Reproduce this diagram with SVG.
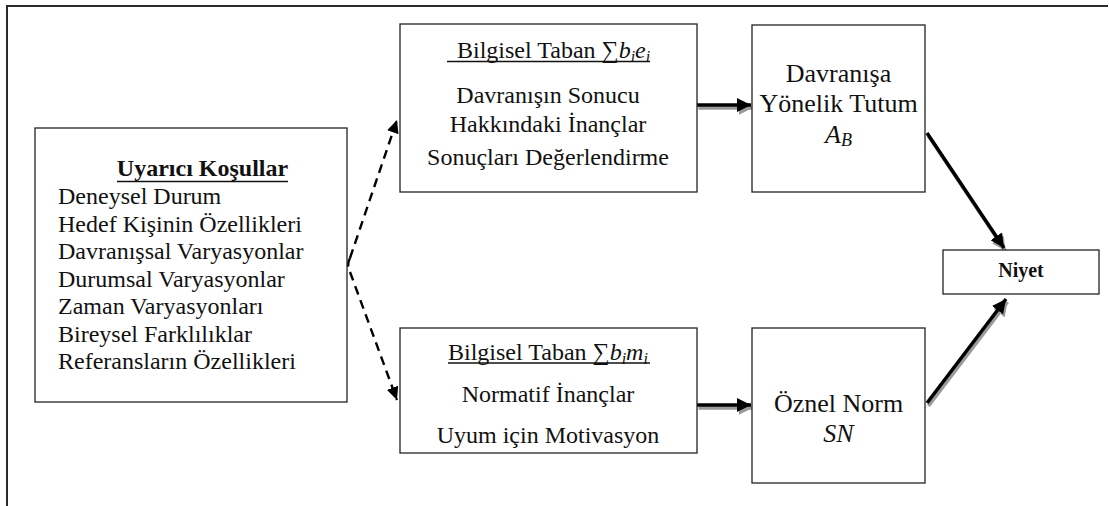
<svg xmlns="http://www.w3.org/2000/svg" width="1109" height="506" viewBox="0 0 1109 506" font-family="'Liberation Serif', 'Times New Roman', Times, 'DejaVu Serif', serif">
  <style>
    text { fill: #111; }
    .t24 { font-size: 24px; }
    .t26 { font-size: 26px; }
    .c { text-anchor: middle; }
    .box { fill: #fff; stroke: #222; stroke-width: 1.3; }
    .frame { fill: none; stroke: #2a2a2a; stroke-width: 2; }
    .uline { stroke: #111; stroke-width: 1.6; }
    .dash { fill: none; stroke: #000; stroke-width: 2.4; stroke-dasharray: 9 6; }
    .thick { fill: none; stroke: #000; stroke-width: 3.5; }
    .shadow { fill: none; stroke: #9a9a9a; stroke-width: 3.5; }
  </style>
  <defs>
    <marker id="headBlack" markerUnits="userSpaceOnUse" markerWidth="16" markerHeight="14" refX="14" refY="7" orient="auto">
      <path d="M0,0 L14,7 L0,14 Z" fill="#000"/>
    </marker>
    <marker id="headGray" markerUnits="userSpaceOnUse" markerWidth="16" markerHeight="14" refX="14" refY="7" orient="auto">
      <path d="M0,0 L14,7 L0,14 Z" fill="#9a9a9a"/>
    </marker>
    <marker id="headDash" markerUnits="userSpaceOnUse" markerWidth="14" markerHeight="12" refX="13" refY="6" orient="auto">
      <path d="M0,0 L13,6 L0,12 Z" fill="#000"/>
    </marker>
  </defs>

  <!-- page frame -->
  <path class="frame" d="M7,506 V6 H1108"/>

  <!-- connectors -->
  <g id="connectors">
    <path class="dash" d="M350,258 Q346,265 350,272" stroke-dasharray="none"/>
    <path class="dash" d="M350,258 L397,120" marker-end="url(#headDash)"/>
    <path class="dash" d="M350,272 L397,400" marker-end="url(#headDash)"/>

    <g transform="translate(1.5,3)">
      <path class="shadow" d="M697,105 H751" marker-end="url(#headGray)"/>
      <path class="shadow" d="M697,405 H751" marker-end="url(#headGray)"/>
      <path class="shadow" d="M927,133 L1004,248" marker-end="url(#headGray)"/>
      <path class="shadow" d="M927,403 L1006,299" marker-end="url(#headGray)"/>
    </g>
    <path class="thick" d="M697,105 H751" marker-end="url(#headBlack)"/>
    <path class="thick" d="M697,405 H751" marker-end="url(#headBlack)"/>
    <path class="thick" d="M927,133 L1004,248" marker-end="url(#headBlack)"/>
    <path class="thick" d="M927,403 L1006,299" marker-end="url(#headBlack)"/>
  </g>

  <!-- stimulus conditions -->
  <g id="node-uyarici">
    <rect class="box" x="35" y="128" width="312" height="274"/>
    <text class="t24 c" x="202.5" y="176" font-weight="bold">Uyarıcı Koşullar</text>
    <line class="uline" x1="117" y1="181.5" x2="288" y2="181.5" stroke-width="2"/>
    <text class="t24" x="58" y="204">Deneysel Durum</text>
    <text class="t24" x="58" y="231.5">Hedef Kişinin Özellikleri</text>
    <text class="t24" x="58" y="259">Davranışsal Varyasyonlar</text>
    <text class="t24" x="58" y="286.5">Durumsal Varyasyonlar</text>
    <text class="t24" x="58" y="314">Zaman Varyasyonları</text>
    <text class="t24" x="58" y="341.5">Bireysel Farklılıklar</text>
    <text class="t24" x="58" y="369">Referansların Özellikleri</text>
  </g>

  <!-- behavioural beliefs -->
  <g id="node-bilgisel-1">
    <rect class="box" x="400" y="24" width="297" height="168"/>
    <text class="t24" x="457" y="58">Bilgisel Taban ∑<tspan font-style="italic">b</tspan><tspan font-style="italic" font-size="16" dy="4">i</tspan><tspan font-style="italic" dy="-4">e</tspan><tspan font-style="italic" font-size="16" dy="4">i</tspan></text>
    <line class="uline" x1="447" y1="61.5" x2="650" y2="61.5"/>
    <text class="t24 c" x="548" y="103">Davranışın Sonucu</text>
    <text class="t24 c" x="548" y="132">Hakkındaki İnançlar</text>
    <text class="t24 c" x="548" y="165">Sonuçları Değerlendirme</text>
  </g>

  <!-- normative beliefs -->
  <g id="node-bilgisel-2">
    <rect class="box" x="400" y="328" width="297" height="125"/>
    <text class="t24" x="448" y="360">Bilgisel Taban ∑<tspan font-style="italic">b</tspan><tspan font-style="italic" font-size="16" dy="4">i</tspan><tspan font-style="italic" dy="-4">m</tspan><tspan font-style="italic" font-size="16" dy="4">i</tspan></text>
    <line class="uline" x1="448" y1="363" x2="650" y2="363"/>
    <text class="t24 c" x="548" y="402">Normatif İnançlar</text>
    <text class="t24 c" x="548" y="443">Uyum için Motivasyon</text>
  </g>

  <!-- attitude -->
  <g id="node-tutum">
    <rect class="box" x="752" y="25" width="173" height="167"/>
    <text class="t26 c" x="838.5" y="82">Davranışa</text>
    <text class="t26 c" x="838.5" y="112">Yönelik Tutum</text>
    <text class="t26 c" x="838.5" y="143" font-style="italic">A<tspan font-size="18" dy="3">B</tspan></text>
  </g>

  <!-- subjective norm -->
  <g id="node-norm">
    <rect class="box" x="752" y="328" width="173" height="155"/>
    <text class="t26 c" x="838.5" y="412">Öznel Norm</text>
    <text class="t26 c" x="838.5" y="442" font-style="italic">SN</text>
  </g>

  <!-- intention -->
  <g id="node-niyet">
    <rect class="box" x="943" y="250" width="156" height="44"/>
    <text class="c" x="1021" y="277" font-size="20" font-weight="bold">Niyet</text>
  </g>
</svg>
